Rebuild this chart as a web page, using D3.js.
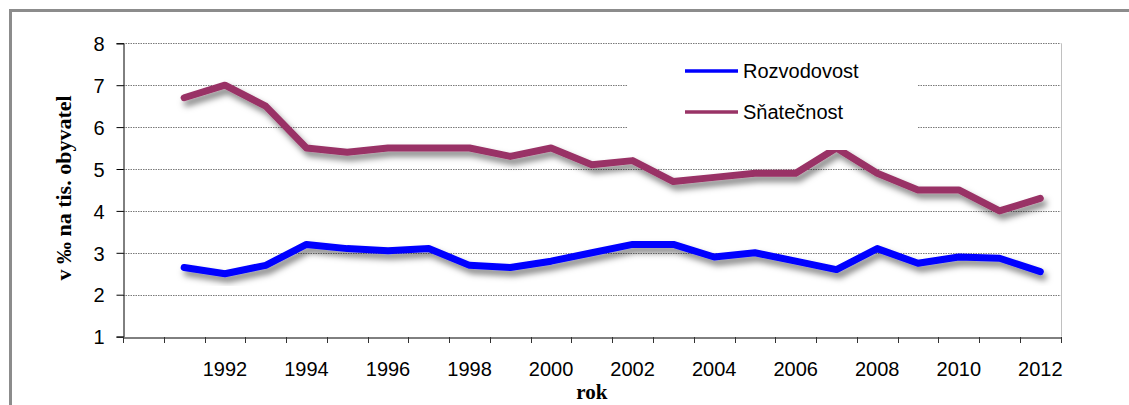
<!DOCTYPE html>
<html>
<head>
<meta charset="utf-8">
<script src="https://cdn.jsdelivr.net/npm/d3@7"></script>
<style>
  body { margin: 0; background: #fff; }
  svg { display: block; }
  .tick text { font-family: Arial, "Liberation Sans", sans-serif; fill: #000; }
</style>
</head>
<body>
<div id="chart"></div>
<script>
const width = 1129;
const height = 405;

// data
const categories = d3.range(1990, 2013); // 1990 slot is empty in the original
const years = [1991, 1992, 1993, 1994, 1995, 1996, 1997, 1998, 1999, 2000, 2001,
               2002, 2003, 2004, 2005, 2006, 2007, 2008, 2009, 2010, 2011, 2012];
const rozvodovost = [2.65, 2.5, 2.7, 3.2, 3.1, 3.05, 3.1, 2.7, 2.65, 2.8, 3.0,
                     3.2, 3.2, 2.9, 3.0, 2.8, 2.6, 3.1, 2.75, 2.9, 2.87, 2.55];
const snatecnost = [6.7, 7.0, 6.5, 5.5, 5.4, 5.5, 5.5, 5.5, 5.3, 5.5, 5.1,
                    5.2, 4.7, 4.8, 4.9, 4.9, 5.5, 4.9, 4.5, 4.5, 4.0, 4.3];
const yTicks = [1, 2, 3, 4, 5, 6, 7, 8];
const seriesNames = ["Rozvodovost", "Sňatečnost"];
const seriesColors = ["#0000ff", "#993366"];

const plot = { left: 123, right: 1060.7, top: 43.3, bottom: 336.6 };

const svg = d3.select("#chart").append("svg")
    .attr("width", width)
    .attr("height", height);

// drop shadow like the Excel line effect
const defs = svg.append("defs");
const shadow = defs.append("filter").attr("id", "shadow")
    .attr("x", "-5%").attr("y", "-20%").attr("width", "110%").attr("height", "160%");
shadow.append("feDropShadow")
    .attr("dx", 3).attr("dy", 5).attr("stdDeviation", 3)
    .attr("flood-color", "#000").attr("flood-opacity", 0.5);

// outer frame (only top and left visible)
svg.append("rect")
    .attr("x", 10.5).attr("y", 10.5)
    .attr("width", 1300).attr("height", 600)
    .attr("fill", "none")
    .attr("stroke", "#8c8c8c")
    .attr("stroke-width", 3);

const x = d3.scaleBand()
    .domain(categories)
    .range([plot.left, plot.right])
    .padding(0);

const y = d3.scaleLinear()
    .domain([1, 8])
    .range([plot.bottom, plot.top]);

// gridlines
svg.append("g")
    .selectAll("line")
    .data(yTicks.filter(d => d > 1))
    .enter().append("line")
    .attr("x1", plot.left)
    .attr("x2", plot.right)
    .attr("y1", d => Math.round(y(d)) + 0.5)
    .attr("y2", d => Math.round(y(d)) + 0.5)
    .attr("stroke", "#7a7a7a")
    .attr("stroke-width", 1)
    .attr("stroke-dasharray", "1.5,1");

// right border of plot area
svg.append("line")
    .attr("x1", Math.round(plot.right) + 0.5).attr("x2", Math.round(plot.right) + 0.5)
    .attr("y1", y(8)).attr("y2", y(1))
    .attr("stroke", "#c0c0c0");

// y axis
const yAxis = svg.append("g")
    .attr("transform", `translate(${plot.left + 0.5},0)`)
    .call(d3.axisLeft(y).tickValues(yTicks).tickSize(7).tickPadding(12).tickFormat(d3.format("d")));
yAxis.select(".domain").attr("stroke", "#000");
yAxis.selectAll(".tick line").attr("stroke", "#000");
yAxis.selectAll(".tick text").style("font-size", "20px").attr("dy", "0.36em");

// x axis: labels centred in categories, ticks on category boundaries
const xAxis = svg.append("g")
    .attr("transform", `translate(0,${Math.round(plot.bottom) + 0.5})`)
    .call(d3.axisBottom(x)
        .tickSize(0)
        .tickPadding(24)
        .tickFormat(d => (d >= 1992 && d % 2 === 0) ? d : ""));
xAxis.select(".domain").attr("stroke", "#000");
xAxis.selectAll(".tick text").style("font-size", "20px");

svg.append("g")
    .selectAll("line")
    .data(categories.concat([null]))
    .enter().append("line")
    .attr("x1", d => Math.round(d === null ? plot.right : x(d)) + 0.5)
    .attr("x2", d => Math.round(d === null ? plot.right : x(d)) + 0.5)
    .attr("y1", Math.round(plot.bottom))
    .attr("y2", Math.round(plot.bottom) + 6)
    .attr("stroke", "#333");

// lines
const line = d3.line()
    .x(d => x(d.year) + x.bandwidth() / 2)
    .y(d => y(d.value));

[rozvodovost, snatecnost].forEach((values, i) => {
    const data = years.map((yr, j) => ({ year: yr, value: values[j] }));
    svg.append("path")
        .datum(data)
        .attr("fill", "none")
        .attr("stroke", seriesColors[i])
        .attr("stroke-width", 7)
        .attr("stroke-linejoin", "round")
        .attr("stroke-linecap", "round")
        .attr("filter", "url(#shadow)")
        .attr("d", line);
});

// legend
const legend = svg.append("g");
legend.append("rect")
    .attr("x", 628).attr("y", 50)
    .attr("width", 289).attr("height", 100)
    .attr("fill", "#fff");

seriesNames.forEach((name, i) => {
    const ly = 71 + i * 41;
    legend.append("line")
        .attr("x1", 685).attr("x2", 738)
        .attr("y1", ly).attr("y2", ly)
        .attr("stroke", seriesColors[i])
        .attr("stroke-width", 3.5);
    legend.append("text")
        .attr("x", 743).attr("y", ly + 7)
        .style("font-family", "Arial, 'Liberation Sans', sans-serif")
        .style("font-size", "20px")
        .text(name);
});

// axis titles
svg.append("text")
    .attr("x", (plot.left + plot.right) / 2)
    .attr("y", 399)
    .attr("text-anchor", "middle")
    .style("font-family", "'Times New Roman', 'Liberation Serif', serif")
    .style("font-weight", "bold")
    .style("font-size", "21px")
    .text("rok");

svg.append("text")
    .attr("transform", "translate(71,188) rotate(-90)")
    .attr("text-anchor", "middle")
    .style("font-family", "'Times New Roman', 'Liberation Serif', serif")
    .style("font-weight", "bold")
    .style("font-size", "22px")
    .text("v ‰ na tis. obyvatel");
</script>
</body>
</html>
